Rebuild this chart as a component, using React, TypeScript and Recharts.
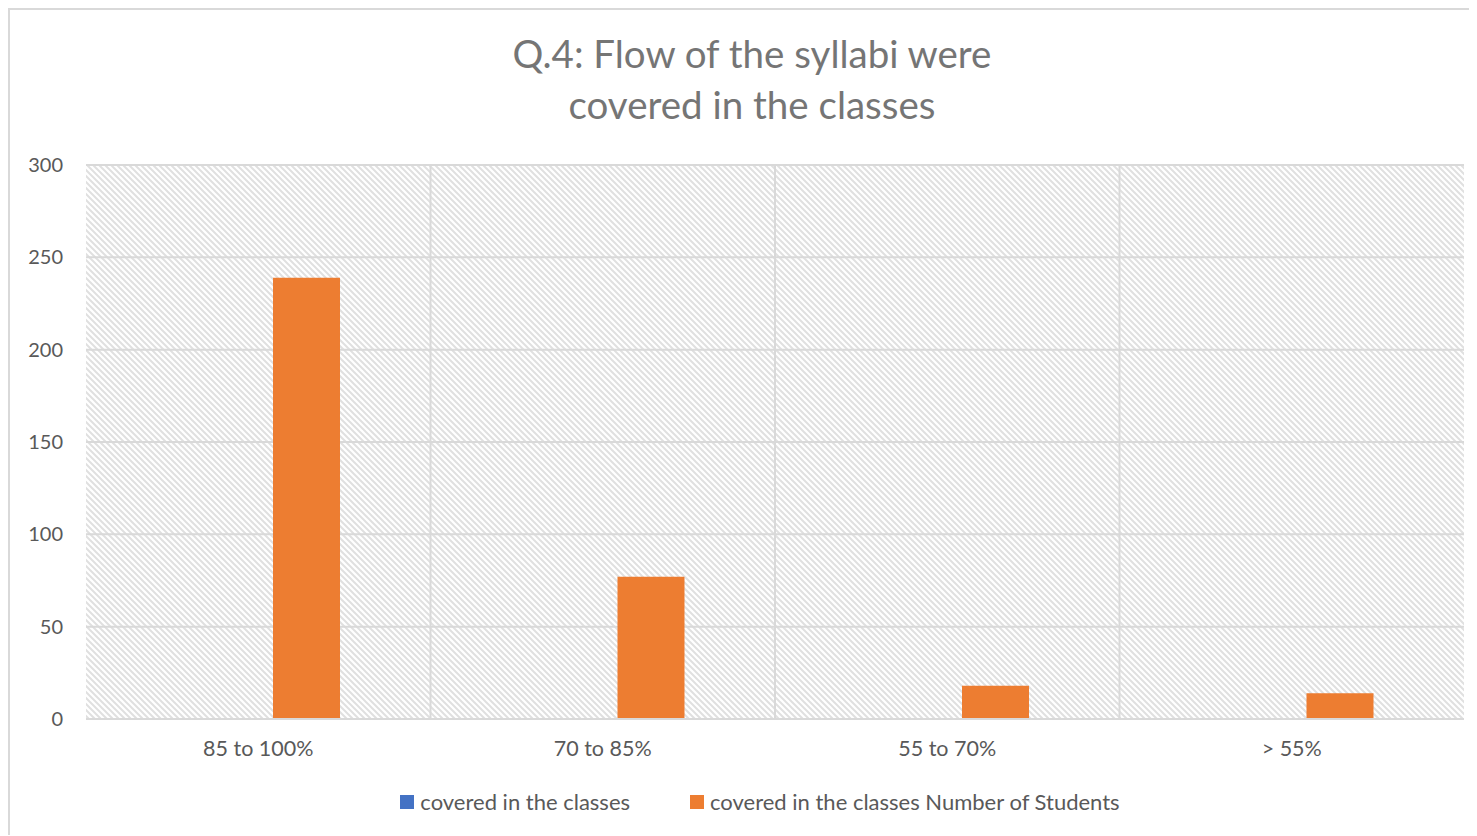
import { BarChart, Bar, XAxis, YAxis, CartesianGrid, Legend } from "recharts";

const categories = ["85 to 100%", "70 to 85%", "55 to 70%", "> 55%"];
const coveredValues = [0, 0, 0, 0];
const studentValues = [239, 77, 18, 14];
const yTicks = [0, 50, 100, 150, 200, 250, 300];

const seriesNames = ["covered in the classes", "covered in the classes Number of Students"];

const chartData = categories.map((name, i) => ({
  name,
  covered: coveredValues[i],
  students: studentValues[i],
}));

const FONT = "Lato, 'Open Sans', sans-serif";
const GRID = "#d9d9d9";
const TEXT = "#595959";

const LegendContent = ({ payload }: { payload?: Array<{ value: string; color: string }> }) => (
  <div style={{ display: "flex", justifyContent: "center", gap: 60, fontSize: 22, color: TEXT }}>
    {(payload ?? []).map((p) => (
      <div key={p.value} style={{ display: "flex", alignItems: "center" }}>
        <span style={{ width: 14, height: 14, background: p.color, marginRight: 6, display: "inline-block" }} />
        {p.value}
      </div>
    ))}
  </div>
);

export default function App() {
  // vertical grid lines sit on the category boundaries, like Excel
  const verticalLines = ({ offset }: { offset: { left: number; width: number } }) =>
    [1, 2, 3].map((i) => offset.left + (offset.width * i) / categories.length);

  return (
    <div
      style={{
        position: "relative",
        width: 1468,
        height: 827,
        borderLeft: `2px solid ${GRID}`,
        borderTop: `2px solid ${GRID}`,
        boxSizing: "border-box",
        fontFamily: FONT,
        background: "#fff",
      }}
    >
      <div
        style={{
          position: "absolute",
          left: 0,
          width: 1484,
          top: 18,
          textAlign: "center",
          fontSize: 38.5,
          lineHeight: "51px",
          color: "#757575",
        }}
      >
        Q.4: Flow of the syllabi were
        <br />
        covered in the classes
      </div>
      <BarChart
        width={1466}
        height={825}
        data={chartData}
        margin={{ top: 155, right: 12, left: 16, bottom: 59 }}
        barCategoryGap={90}
        barGap={30}
      >
        <defs>
          <pattern id="hatch" width="6" height="6" patternUnits="userSpaceOnUse">
            <path d="M-1,-1 L7,7 M5,-1 L7,1 M-1,5 L1,7" stroke="#e0e0e0" strokeWidth="2" />
          </pattern>
        </defs>
        <CartesianGrid
          fill="url(#hatch)"
          fillOpacity={1}
          stroke={GRID}
          strokeWidth={2}
          verticalCoordinatesGenerator={verticalLines}
        />
        <XAxis
          dataKey="name"
          tickLine={false}
          tickSize={0}
          tickMargin={22}
          axisLine={{ stroke: GRID, strokeWidth: 2 }}
          tick={{ fill: TEXT, fontSize: 21.5, fontFamily: FONT }}
        />
        <YAxis
          domain={[0, 300]}
          ticks={yTicks}
          width={60}
          tickLine={false}
          tickSize={0}
          tickMargin={23}
          axisLine={false}
          tick={{ fill: TEXT, fontSize: 20, fontFamily: FONT }}
        />
        <Legend
          verticalAlign="bottom"
          wrapperStyle={{ bottom: 20, left: 8, width: 1484, fontFamily: FONT }}
          content={<LegendContent />}
        />
        <Bar dataKey="covered" name={seriesNames[0]} fill="#4472C4" isAnimationActive={false} />
        <Bar dataKey="students" name={seriesNames[1]} fill="#ED7D31" isAnimationActive={false} />
      </BarChart>
    </div>
  );
}
